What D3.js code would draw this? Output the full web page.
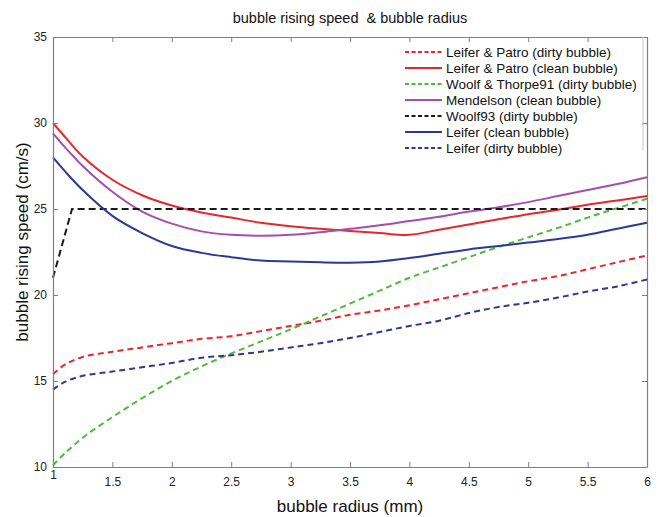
<!DOCTYPE html>
<html>
<head>
<meta charset="utf-8">
<script src="https://cdn.jsdelivr.net/npm/d3@7"></script>
<style>
  body { margin: 0; background: #fff; }
  svg text { font-family: "Liberation Sans", Arial, sans-serif; }
</style>
</head>
<body>
<div id="chart-container"></div>
<script>
// bubble radius (mm) sampling shared by the curves
const radius = [1, 1.1, 1.25, 1.5, 1.75, 2, 2.25, 2.5, 2.75, 3, 3.25, 3.5, 3.75, 4, 4.25, 4.5, 4.75, 5, 5.25, 5.5, 5.75, 6];

// rising speed (cm/s)
const leiferPatroDirty = [15.4, 15.95, 16.4, 16.7, 16.95, 17.2, 17.45, 17.6, 17.9, 18.2, 18.5, 18.85, 19.1, 19.4, 19.75, 20.1, 20.45, 20.8, 21.1, 21.5, 21.9, 22.3];
const leiferPatroClean = [30.0, 29.2, 28.05, 26.7, 25.8, 25.2, 24.8, 24.5, 24.2, 24.0, 23.85, 23.72, 23.6, 23.5, 23.8, 24.1, 24.4, 24.7, 24.95, 25.25, 25.5, 25.75];
const woolfThorpe91 = [10.1, 10.8, 11.7, 12.9, 14.0, 15.0, 15.85, 16.6, 17.3, 18.0, 18.75, 19.5, 20.25, 21.0, 21.6, 22.2, 22.8, 23.35, 23.9, 24.5, 25.05, 25.6];
const mendelson = [29.4, 28.6, 27.5, 26.0, 24.85, 24.15, 23.7, 23.5, 23.45, 23.5, 23.65, 23.85, 24.05, 24.3, 24.55, 24.85, 25.1, 25.4, 25.75, 26.1, 26.45, 26.85];
const leiferClean = [28.0, 27.2, 26.1, 24.6, 23.6, 22.85, 22.45, 22.2, 22.0, 21.95, 21.9, 21.88, 21.95, 22.15, 22.4, 22.65, 22.85, 23.05, 23.25, 23.5, 23.85, 24.2];
const leiferDirty = [14.5, 14.95, 15.3, 15.55, 15.8, 16.05, 16.35, 16.5, 16.7, 16.95, 17.2, 17.5, 17.85, 18.2, 18.5, 18.95, 19.3, 19.55, 19.85, 20.2, 20.5, 20.9];

// Woolf93 has its own few points
const woolf93Radius = [1, 1.16, 6];
const woolf93 = [21.0, 25.0, 25.0];

const xTicks = [1, 1.5, 2, 2.5, 3, 3.5, 4, 4.5, 5, 5.5, 6];
const yTicks = [10, 15, 20, 25, 30, 35];

const series = [
  { name: "Leifer & Patro (dirty bubble)", x: radius, y: leiferPatroDirty, color: "#e8262d", dash: "6,4" },
  { name: "Leifer & Patro (clean bubble)", x: radius, y: leiferPatroClean, color: "#e8262d", dash: null },
  { name: "Woolf & Thorpe91 (dirty bubble)", x: radius, y: woolfThorpe91, color: "#4cbb3a", dash: "6,4" },
  { name: "Mendelson (clean bubble)", x: radius, y: mendelson, color: "#a34fae", dash: null },
  { name: "Woolf93 (dirty bubble)", x: woolf93Radius, y: woolf93, color: "#1a1a1a", dash: "7,4", straight: true },
  { name: "Leifer (clean bubble)", x: radius, y: leiferClean, color: "#2b3a92", dash: null },
  { name: "Leifer (dirty bubble)", x: radius, y: leiferDirty, color: "#2b3a92", dash: "6,4" }
];

const width = 660, height = 517;
const marginTop = 37, marginRight = 13, marginBottom = 50, marginLeft = 53;

const svg = d3.select("#chart-container")
  .append("svg")
  .attr("width", width)
  .attr("height", height);

const xScale = d3.scaleLinear()
  .domain([1, 6])
  .range([marginLeft, width - marginRight]);

const yScale = d3.scaleLinear()
  .domain([10, 35])
  .range([height - marginBottom, marginTop]);

const axisColor = "#808080";

// kurverne
const smoothLine = d3.line()
  .x(d => xScale(d[0]))
  .y(d => yScale(d[1]))
  .curve(d3.curveCatmullRom.alpha(0.5));

const straightLine = d3.line()
  .x(d => xScale(d[0]))
  .y(d => yScale(d[1]));

series.forEach(s => {
  svg.append("path")
    .datum(s.x.map((v, i) => [v, s.y[i]]))
    .attr("fill", "none")
    .attr("stroke", s.color)
    .attr("stroke-width", 2)
    .attr("stroke-dasharray", s.dash)
    .attr("d", s.straight ? straightLine : smoothLine);
});

// akser med ticks indad, som i MATLAB
const xAxisG = svg.append("g")
  .attr("transform", `translate(0, ${height - marginBottom})`)
  .call(d3.axisBottom(xScale).tickValues(xTicks).tickFormat(d3.format("")).tickSizeInner(-5).tickSizeOuter(0).tickPadding(10));

const yAxisG = svg.append("g")
  .attr("transform", `translate(${marginLeft}, 0)`)
  .call(d3.axisLeft(yScale).tickValues(yTicks).tickSizeInner(-5).tickSizeOuter(0).tickPadding(6));

const topAxisG = svg.append("g")
  .attr("transform", `translate(0, ${marginTop})`)
  .call(d3.axisTop(xScale).tickValues(xTicks).tickFormat("").tickSizeInner(-5).tickSizeOuter(0));

const rightAxisG = svg.append("g")
  .attr("transform", `translate(${width - marginRight}, 0)`)
  .call(d3.axisRight(yScale).tickValues(yTicks).tickFormat("").tickSizeInner(-5).tickSizeOuter(0));

[xAxisG, yAxisG, topAxisG, rightAxisG].forEach(g => {
  g.select(".domain").attr("stroke", axisColor).attr("stroke-width", 1.2);
  g.selectAll(".tick line").attr("stroke", axisColor);
  g.selectAll("text").attr("fill", "#222").style("font-size", "12px");
});

// "1" sidder lidt højere end de andre x-labels
xAxisG.selectAll(".tick text").filter(d => d === 1).attr("dy", "0.2em");

// legende
const legendX = 405;
const legendY = 52;
const legendStep = 16;

svg.append("line")
  .attr("x1", 643).attr("x2", 643)
  .attr("y1", marginTop).attr("y2", 150)
  .attr("stroke", "#c8c8c8")
  .attr("stroke-width", 1);

const legend = svg.append("g");
series.forEach((s, i) => {
  const y = legendY + i * legendStep;
  legend.append("line")
    .attr("x1", legendX).attr("x2", legendX + 37)
    .attr("y1", y).attr("y2", y)
    .attr("stroke", s.color)
    .attr("stroke-width", 2)
    .attr("stroke-dasharray", s.dash ? "4,2.5" : null);
  legend.append("text")
    .attr("x", legendX + 41)
    .attr("y", y)
    .attr("dy", "0.35em")
    .style("font-size", "13.5px")
    .attr("fill", "#111")
    .text(s.name);
});

// titler
svg.append("text")
  .attr("x", 350)
  .attr("y", 23)
  .attr("text-anchor", "middle")
  .style("font-size", "14.5px")
  .attr("fill", "#111")
  .style("white-space", "pre")
  .text("bubble rising speed  & bubble radius");

svg.append("text")
  .attr("x", 350)
  .attr("y", 512)
  .attr("text-anchor", "middle")
  .style("font-size", "17px")
  .attr("fill", "#111")
  .text("bubble radius (mm)");

svg.append("text")
  .attr("transform", "rotate(-90)")
  .attr("x", -242)
  .attr("y", 28)
  .attr("text-anchor", "middle")
  .style("font-size", "17px")
  .attr("fill", "#111")
  .text("bubble rising speed (cm/s)");
</script>
</body>
</html>
